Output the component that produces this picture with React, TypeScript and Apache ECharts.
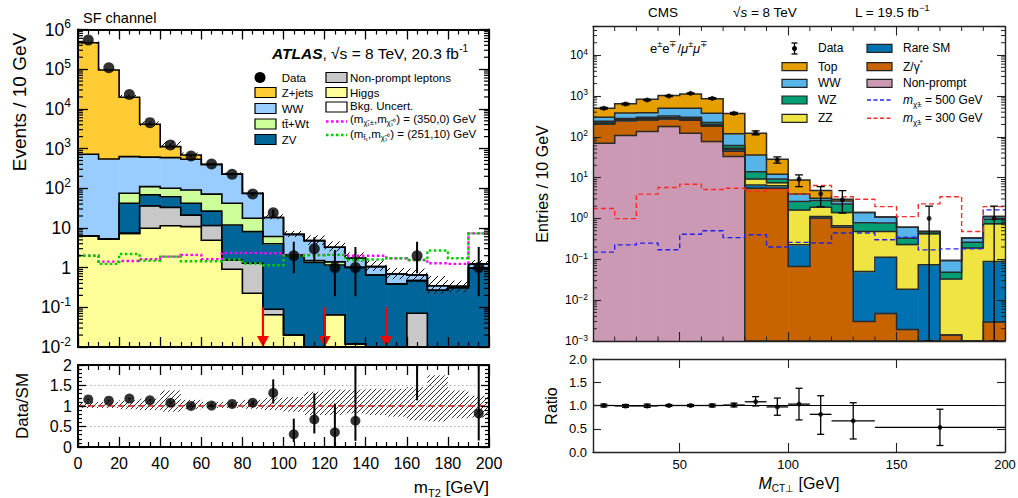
import React, { useEffect, useRef } from "react";
import * as echarts from "echarts";

const FF = "'Liberation Sans', Arial, Helvetica, sans-serif";

/* ================= ATLAS panel (left) ================= */
const atlasEdges = [0, 10, 20, 30, 40, 50, 60, 70, 80, 90, 100, 110, 120, 130, 140, 150, 160, 170, 180, 190, 200];
const atlasHiggs = [6.3, 5.3, 7.3, 9.8, 11.4, 10.8, 4.9, 0.91, 0.226, 0.065, 0.02, 0, 0.065, 0.012, 0, 0, 0, 0, 0, 0];
const atlasNonPrompt = [0, 0, 0, 26.2, 21.6, 10.2, 6.6, 0.65, 1.06, 0.024, 0, 0, 0, 0, 0, 0, 0.071, 0, 0, 0];
const atlasZV = [0, 0, 34.7, 32, 28, 21, 15, 10.3, 6.8, 3.9, 1.95, 1.35, 1.1, 1.0, 0.65, 0.39, 0.4, 0.27, 0.31, 0.97];
const atlasTtWt = [0, 0, 33, 42, 39, 48, 44.5, 30, 9.4, 2.1, 0.13, 0.15, 0.23, 0, 0, 0, 0, 0, 0, 0];
const atlasWW = [712, 542, 550, 500, 490, 448, 324, 183, 56.5, 12.2, 4.8, 3.3, 1.87, 0.71, 0.41, 0.3, 0.18, 0.08, 0.03, 0.27];
const atlasZjets = [464300, 94450, 18975, 3480, 527, 152, 5, 4, 1, 0, 0, 0, 0, 0, 0, 0, 0, 0, 0, 0];
const atlasData = [540000, 109000, 23000, 4500, 1230, 650, 410, 225, 72, 24, 2, 3, 1, 1, 0, 0, 2, 0, 0, 1];
const atlasDataLo = [539300, 108700, 22850, 4433, 1195, 625, 390, 210, 63.5, 19.1, 0.72, 1.4, 0.19, 0.19, 0, 0, 0.72, 0, 0, 0.19];
const atlasDataHi = [540700, 109300, 23150, 4567, 1265, 675, 430, 240, 80.5, 28.9, 4.5, 5.8, 2.8, 3.3, 0, 0, 4.5, 0, 0, 3.3];
const atlasUncLo = [0.95, 0.95, 0.92, 0.9, 0.86, 0.92, 0.95, 0.95, 0.93, 0.9, 0.86, 0.78, 0.78, 0.82, 0.78, 0.74, 0.65, 0.62, 0.7, 0.72];
const atlasUncHi = [1.1, 1.1, 1.14, 1.18, 1.38, 1.15, 1.1, 1.1, 1.15, 1.2, 1.22, 1.35, 1.4, 1.4, 1.42, 1.42, 1.46, 1.75, 1.38, 1.25];
const atlasSigC1N1 = [2.0, 1.42, 1.47, 1.62, 1.89, 2.09, 1.62, 2.35, 2.35, 2.3, 2.1, 2.1, 2.1, 2.0, 2.0, 1.73, 1.56, 1.29, 1.24, 7.3];
const atlasSigStop = [2.0, 1.24, 2.2, 1.5, 1.89, 1.45, 1.45, 1.6, 1.27, 1.15, 2.0, 2.05, 2.1, 1.56, 1.6, 1.73, 1.56, 2.7, 1.73, 7.3];
const atlasCutArrows = [90, 120, 150];
const atlasArrowTop = 0.1;
const atlasRatio = [1.16, 1.13, 1.18, 1.14, 1.08, 1.0, 1.01, 1.05, 1.08, 1.32, 0.31, 0.67, 0.36, 0.64, null, null, 3.2, null, null, 0.82];
const atlasRatioLo = [1.14, 1.11, 1.16, 1.12, 1.05, 0.97, 0.98, 1.02, 1.03, 1.06, 0.12, 0.33, 0.0, 0.15, null, null, 1.14, null, null, 0.16];
const atlasRatioHi = [1.18, 1.15, 1.2, 1.16, 1.11, 1.03, 1.04, 1.08, 1.13, 1.65, 0.69, 1.31, 1.06, 2.5, null, null, 5, null, null, 2.5];

/* ================= CMS panel (right) ================= */
const cmsEdges = [10, 20, 30, 40, 50, 60, 70, 80, 90, 100, 110, 120, 130, 140, 150, 160, 170, 180, 190, 200];
const cmsNonPrompt = [69, 108, 135, 177, 122, 76, 33, 0, 0, 0, 0, 0, 0, 0, 0, 0, 0, 0, 0];
const cmsZgamma = [135, 137, 122, 95, 133, 104, 11, 5.5, 5.5, 0.067, 1.02, 0.61, 0.003, 0.0047, 0.0019, 0, 0.0014, 0, 0.0029];
const cmsRareSM = [8, 10, 8, 10, 10, 10, 4, 1.1, 0.8, 0.159, 0.09, 0.05, 0.047, 0.108, 0.0167, 0.074, 0, 0, 0.085];
const cmsZZ = [6, 7, 10, 10, 10, 10, 4, 2.7, 1.2, 1.39, 0.78, 0.73, 0.43, 0.367, 0.211, 0.346, 0.0316, 0.19, 0.652];
const cmsWZ = [22, 18, 25, 28, 25, 22, 9, 4.7, 1.8, 0.98, 0.85, 0.88, 0.31, 0.29, 0.1, 0.06, 0.015, 0.07, 0.22];
const cmsWW = [60, 100, 89, 178, 198, 153, 57, 22, 2.8, 1.4, 0.39, 0.42, 0.6, 0.31, 0.28, 0, 0.045, 0.07, 0.15];
const cmsTop = [198, 265, 441, 522, 612, 475, 252, 86, 15.9, 4.8, 1.67, 0.27, 0, 0, 0, 0, 0, 0, 0];
const cmsData = [498, 634, 794, 995, 1157, 870, 375, 126, 27, 9.1, 4.0, 2.85, 0, 0, 0, 1, 0, 0, 1];
const cmsDataLo = [475, 608, 765, 963, 1123, 840, 356, 112, 22.5, 6.0, 1.95, 1.35, 0, 0, 0, 0.001, 0, 0, 0.001];
const cmsDataHi = [520, 660, 823, 1027, 1191, 900, 394, 140, 32, 11.6, 6.0, 4.8, 0, 0, 0, 2.0, 0, 0, 2.0];
const cmsSig300 = [1.75, 0.99, 3.93, 5.7, 6.9, 5.1, 5.5, 4.7, 5.1, 4.0, 6.4, 3.4, 2.96, 1.95, 1.11, 2.28, 3.4, 0.48, 1.95];
const cmsSig500 = [0.15, 0.226, 0.249, 0.171, 0.41, 0.5, 0.34, 0.4, 0.2, 0.26, 0.25, 0.44, 0.44, 0.3, 0.35, 0.17, 0.18, 0.18, 1.62];
const cmsRatioX = [15, 25, 35, 45, 55, 65, 75, 85, 95, 105, 115, 130, 170];
const cmsRatioXLo = [10, 20, 30, 40, 50, 60, 70, 80, 90, 100, 110, 120, 140];
const cmsRatioXHi = [20, 30, 40, 50, 60, 70, 80, 90, 100, 110, 120, 140, 200];
const cmsRatio = [1.0, 0.99, 0.99, 1.0, 1.0, 1.0, 1.01, 1.08, 0.97, 1.03, 0.81, 0.67, 0.53];
const cmsRatioLo = [0.97, 0.96, 0.96, 0.98, 0.98, 0.97, 0.97, 0.99, 0.79, 0.69, 0.38, 0.28, 0.14];
const cmsRatioHi = [1.03, 1.02, 1.03, 1.02, 1.02, 1.03, 1.05, 1.19, 1.16, 1.37, 1.21, 1.06, 0.92];
const cmsMajorX = [50, 100, 150, 200];
const cmsMinorX = [20, 30, 40, 60, 70, 80, 90, 110, 120, 130, 140, 160, 170, 180, 190];

/* ================= helpers ================= */
function logMinors(dMin: number, dMax: number, vMax: number) {
  const out: number[] = [];
  for (let d = dMin; d <= dMax; d++) {
    for (let m = 2; m <= 9; m++) {
      const v = Number((m * Math.pow(10, d)).toPrecision(3));
      if (v < vMax) out.push(v);
    }
  }
  return out;
}

function centers(edges: number[]) {
  return edges.slice(0, -1).map((e, i) => (e + edges[i + 1]) / 2);
}

function stepPts(api: any, edges: number[], vals: number[], floor: number) {
  const pts: number[][] = [];
  for (let i = 0; i < vals.length; i++) {
    const v = Math.max(vals[i], floor);
    pts.push(api.coord([edges[i], v]));
    pts.push(api.coord([edges[i + 1], v]));
  }
  return pts;
}

function hatchLines(x0: number, x1: number, yt: number, yb: number, sp: number, style: any) {
  const out: any[] = [];
  const cmin = x0 + yt;
  const cmax = x1 + yb;
  for (let c = Math.ceil(cmin / sp) * sp; c <= cmax; c += sp) {
    const xa = Math.max(x0, c - yb);
    const xb = Math.min(x1, c - yt);
    if (xb > xa) out.push({ type: "line", shape: { x1: xa, y1: c - xa, x2: xb, y2: c - xb }, style });
  }
  return out;
}

function stackSeries(edges: number[], comps: { vals: number[]; color: string }[], xi: number, yi: number, floor: number) {
  const n = edges.length - 1;
  const cum = new Array(n).fill(0);
  const levels: number[][] = [];
  const series: any[] = [];
  comps.forEach((c) => {
    const rows: number[][] = [];
    for (let i = 0; i < n; i++) {
      const lo = cum[i];
      cum[i] = lo + c.vals[i];
      if (c.vals[i] > 0) rows.push([edges[i], edges[i + 1], lo, cum[i]]);
    }
    levels.push(cum.slice());
    series.push({
      type: "custom", xAxisIndex: xi, yAxisIndex: yi, clip: true, silent: true, z: 2,
      data: rows,
      renderItem: (_p: any, api: any) => {
        const lo = Math.max(api.value(2), floor);
        const hi = api.value(3);
        if (hi <= floor) return null;
        const a = api.coord([api.value(0), lo]);
        const b = api.coord([api.value(1), hi]);
        return {
          type: "rect",
          shape: { x: a[0], y: b[1], width: b[0] - a[0] + 0.6, height: a[1] - b[1] + 0.6 },
          style: { fill: c.color },
        };
      },
    });
  });
  return { series, levels };
}

function stepSeries(edges: number[], vals: number[], xi: number, yi: number, floor: number, style: any, z = 3) {
  return {
    type: "custom", xAxisIndex: xi, yAxisIndex: yi, clip: true, silent: true, z,
    data: [[edges[0] + 1, floor * 10]],
    renderItem: (_p: any, api: any) => ({
      type: "polyline",
      shape: { points: stepPts(api, edges, vals, floor) },
      style: { fill: "none", ...style },
    }),
  };
}

function richSet(base: number, small: number) {
  const lh = Math.round(base * 1.3);
  return {
    n: { fontFamily: FF, fontSize: base, lineHeight: lh },
    i: { fontFamily: FF, fontSize: base, lineHeight: lh, fontStyle: "italic" },
    bi: { fontFamily: FF, fontSize: base, lineHeight: lh, fontStyle: "italic", fontWeight: "bold" },
    sup: { fontFamily: FF, fontSize: small, lineHeight: small + 1, verticalAlign: "top" },
    sub: { fontFamily: FF, fontSize: small, lineHeight: small + 1, verticalAlign: "bottom" },
  };
}

function gText(x: number, y: number, text: string, size: number, small: number, opt: any = {}) {
  return {
    type: "text", x, y, z: 100, rotation: opt.rotation || 0, silent: true,
    style: {
      text, fontFamily: FF, fontSize: size, lineHeight: Math.round(size * 1.3), fill: "#000",
      align: opt.align || "left", verticalAlign: "middle",
      textAlign: opt.align || "left", textVerticalAlign: "middle",
      rich: richSet(size, small),
    },
  };
}

function buildOption() {
  const series: any[] = [];
  const graphic: any[] = [];

  /* ---------- ATLAS main ---------- */
  const aFloor = 0.01;
  const aC = centers(atlasEdges);
  const aStack = stackSeries(
    atlasEdges,
    [
      { vals: atlasHiggs, color: "#FFFF99" },
      { vals: atlasNonPrompt, color: "#C8C8C8" },
      { vals: atlasZV, color: "#00669A" },
      { vals: atlasTtWt, color: "#CCFF99" },
      { vals: atlasWW, color: "#99CCFF" },
      { vals: atlasZjets, color: "#FFCC33" },
    ],
    0, 0, aFloor
  );
  series.push(...aStack.series);
  aStack.levels.forEach((lv) => series.push(stepSeries(atlasEdges, lv, 0, 0, aFloor, { stroke: "#000", lineWidth: 1.6 })));
  const aTotal = aStack.levels[aStack.levels.length - 1];
  series.push({
    type: "custom", xAxisIndex: 0, yAxisIndex: 0, clip: true, silent: true, z: 3,
    data: aTotal.map((t, i) => [atlasEdges[i], atlasEdges[i + 1], t * atlasUncLo[i], t * atlasUncHi[i]]),
    renderItem: (_p: any, api: any) => {
      const a = api.coord([api.value(0), Math.max(api.value(2), aFloor)]);
      const b = api.coord([api.value(1), api.value(3)]);
      return { type: "group", children: hatchLines(a[0], b[0], b[1], a[1], 7, { stroke: "#000", lineWidth: 1 }) };
    },
  });
  series.push(stepSeries(atlasEdges, atlasSigC1N1, 0, 0, aFloor, { stroke: "#FF00FF", lineWidth: 2.4, lineDash: [2.5, 2.5] }, 4));
  series.push(stepSeries(atlasEdges, atlasSigStop, 0, 0, aFloor, { stroke: "#00CC00", lineWidth: 2.4, lineDash: [2.5, 2.5] }, 4));
  series.push({
    type: "custom", xAxisIndex: 0, yAxisIndex: 0, clip: false, silent: true, z: 4,
    data: atlasCutArrows.map((x) => [x, atlasArrowTop]),
    renderItem: (_p: any, api: any) => {
      const t = api.coord([api.value(0), api.value(1)]);
      const b = api.coord([api.value(0), aFloor]);
      return {
        type: "group",
        children: [
          { type: "line", shape: { x1: t[0], y1: t[1], x2: b[0], y2: b[1] - 8 }, style: { stroke: "#FF0000", lineWidth: 2.2 } },
          { type: "polygon", shape: { points: [[b[0] - 6, b[1] - 11], [b[0] + 6, b[1] - 11], [b[0], b[1]]] }, style: { fill: "#FF0000" } },
        ],
      };
    },
  });
  const aErrRows: number[][] = [];
  const aPts: number[][] = [];
  atlasData.forEach((v, i) => {
    if (v > 0) {
      aErrRows.push([aC[i], atlasDataLo[i], atlasDataHi[i]]);
      aPts.push([aC[i], v]);
    }
  });
  series.push({
    type: "custom", xAxisIndex: 0, yAxisIndex: 0, clip: true, silent: true, z: 5,
    data: aErrRows,
    renderItem: (_p: any, api: any) => {
      const a = api.coord([api.value(0), Math.max(api.value(1), aFloor)]);
      const b = api.coord([api.value(0), api.value(2)]);
      return { type: "line", shape: { x1: a[0], y1: a[1], x2: b[0], y2: b[1] }, style: { stroke: "#000", lineWidth: 2 } };
    },
  });
  series.push({ type: "scatter", xAxisIndex: 0, yAxisIndex: 0, silent: true, z: 6, symbol: "circle", symbolSize: 11, itemStyle: { color: "#000" }, data: aPts });
  series.push({
    type: "custom", xAxisIndex: 0, yAxisIndex: 0, clip: false, silent: true, z: 7,
    data: logMinors(-2, 5, 1e6).map((v) => [100, v]),
    renderItem: (_p: any, api: any) => {
      const l = api.coord([0, api.value(1)]);
      const r = api.coord([200, api.value(1)]);
      const st = { stroke: "#000", lineWidth: 1.2 };
      return { type: "group", children: [
        { type: "line", shape: { x1: l[0], y1: l[1], x2: l[0] + 5, y2: l[1] }, style: st },
        { type: "line", shape: { x1: r[0] - 5, y1: r[1], x2: r[0], y2: r[1] }, style: st },
      ] };
    },
  });

  /* ---------- ATLAS ratio ---------- */
  series.push({
    type: "custom", xAxisIndex: 2, yAxisIndex: 2, clip: true, silent: true, z: 3,
    data: atlasUncLo.map((lo, i) => [atlasEdges[i], atlasEdges[i + 1], lo, atlasUncHi[i]]),
    renderItem: (_p: any, api: any) => {
      const a = api.coord([api.value(0), api.value(2)]);
      const b = api.coord([api.value(1), api.value(3)]);
      return { type: "group", children: hatchLines(a[0], b[0], b[1], a[1], 5, { stroke: "#000", lineWidth: 0.8 }) };
    },
  });
  series.push({
    type: "custom", xAxisIndex: 2, yAxisIndex: 2, clip: true, silent: true, z: 4,
    data: [[100, 1]],
    renderItem: (_p: any, api: any) => {
      const a = api.coord([0, 1]);
      const b = api.coord([200, 1]);
      return { type: "line", shape: { x1: a[0], y1: a[1], x2: b[0], y2: b[1] }, style: { stroke: "#E00000", lineWidth: 1.3, lineDash: [6, 4] } };
    },
  });
  const arRows: number[][] = [];
  const arPts: number[][] = [];
  atlasRatio.forEach((r, i) => {
    if (r != null) {
      arRows.push([aC[i], atlasRatioLo[i] as number, atlasRatioHi[i] as number]);
      arPts.push([aC[i], r]);
    }
  });
  series.push({
    type: "custom", xAxisIndex: 2, yAxisIndex: 2, clip: true, silent: true, z: 5,
    data: arRows,
    renderItem: (_p: any, api: any) => {
      const a = api.coord([api.value(0), api.value(1)]);
      const b = api.coord([api.value(0), api.value(2)]);
      return { type: "line", shape: { x1: a[0], y1: a[1], x2: b[0], y2: b[1] }, style: { stroke: "#000", lineWidth: 2 } };
    },
  });
  series.push({ type: "scatter", xAxisIndex: 2, yAxisIndex: 2, silent: true, z: 6, symbol: "circle", symbolSize: 10, itemStyle: { color: "#000" }, data: arPts });

  /* ---------- CMS main ---------- */
  const cFloor = 0.001;
  const cC = centers(cmsEdges);
  const cStack = stackSeries(
    cmsEdges,
    [
      { vals: cmsNonPrompt, color: "#CC99B4" },
      { vals: cmsZgamma, color: "#C86400" },
      { vals: cmsRareSM, color: "#0072B2" },
      { vals: cmsZZ, color: "#F0E442" },
      { vals: cmsWZ, color: "#009E73" },
      { vals: cmsWW, color: "#56B4E9" },
      { vals: cmsTop, color: "#E69F00" },
    ],
    4, 4, cFloor
  );
  series.push(...cStack.series);
  cStack.levels.forEach((lv) => series.push(stepSeries(cmsEdges, lv, 4, 4, cFloor, { stroke: "#2a2a2a", lineWidth: 1.5 })));
  series.push(stepSeries(cmsEdges, cmsSig500, 4, 4, cFloor, { stroke: "#2222EE", lineWidth: 1.4, lineDash: [5, 3] }, 4));
  series.push(stepSeries(cmsEdges, cmsSig300, 4, 4, cFloor, { stroke: "#FF2a2a", lineWidth: 1.4, lineDash: [5, 3] }, 4));
  const cErrRows: number[][] = [];
  const cPts: number[][] = [];
  cmsData.forEach((v, i) => {
    if (v > 0) {
      cErrRows.push([cC[i], cmsDataLo[i], cmsDataHi[i]]);
      cPts.push([cC[i], v]);
    }
  });
  series.push({
    type: "custom", xAxisIndex: 4, yAxisIndex: 4, clip: true, silent: true, z: 5,
    data: cErrRows,
    renderItem: (_p: any, api: any) => {
      const a = api.coord([api.value(0), Math.max(api.value(1), cFloor)]);
      const b = api.coord([api.value(0), api.value(2)]);
      const st = { stroke: "#000", lineWidth: 1.3 };
      return { type: "group", children: [
        { type: "line", shape: { x1: a[0], y1: a[1], x2: b[0], y2: b[1] }, style: st },
        { type: "line", shape: { x1: a[0] - 4, y1: a[1], x2: a[0] + 4, y2: a[1] }, style: st },
        { type: "line", shape: { x1: b[0] - 4, y1: b[1], x2: b[0] + 4, y2: b[1] }, style: st },
      ] };
    },
  });
  series.push({ type: "scatter", xAxisIndex: 4, yAxisIndex: 4, silent: true, z: 6, symbol: "circle", symbolSize: 5, itemStyle: { color: "#000" }, data: cPts });
  series.push({
    type: "custom", xAxisIndex: 4, yAxisIndex: 4, clip: false, silent: true, z: 7,
    data: logMinors(-3, 4, 5e4).map((v) => [100, v]),
    renderItem: (_p: any, api: any) => {
      const l = api.coord([10, api.value(1)]);
      const r = api.coord([200, api.value(1)]);
      const st = { stroke: "#222", lineWidth: 1 };
      return { type: "group", children: [
        { type: "line", shape: { x1: l[0], y1: l[1], x2: l[0] + 4, y2: l[1] }, style: st },
        { type: "line", shape: { x1: r[0] - 4, y1: r[1], x2: r[0], y2: r[1] }, style: st },
      ] };
    },
  });
  series.push({
    type: "custom", xAxisIndex: 4, yAxisIndex: 4, clip: false, silent: true, z: 7,
    data: cmsMinorX.map((v) => [v, 1]),
    renderItem: (_p: any, api: any) => {
      const b = api.coord([api.value(0), cFloor]);
      const t = api.coord([api.value(0), 5e4]);
      const st = { stroke: "#222", lineWidth: 1 };
      return { type: "group", children: [
        { type: "line", shape: { x1: b[0], y1: b[1], x2: b[0], y2: b[1] - 4.5 }, style: st },
        { type: "line", shape: { x1: t[0], y1: t[1], x2: t[0], y2: t[1] + 4.5 }, style: st },
      ] };
    },
  });

  /* ---------- CMS ratio ---------- */
  series.push({
    type: "custom", xAxisIndex: 6, yAxisIndex: 6, clip: true, silent: true, z: 4,
    data: [[100, 1]],
    renderItem: (_p: any, api: any) => {
      const a = api.coord([10, 1]);
      const b = api.coord([200, 1]);
      return { type: "line", shape: { x1: a[0], y1: a[1], x2: b[0], y2: b[1] }, style: { stroke: "#000", lineWidth: 1.1 } };
    },
  });
  series.push({
    type: "custom", xAxisIndex: 6, yAxisIndex: 6, clip: true, silent: true, z: 5,
    data: cmsRatio.map((r, i) => [cmsRatioX[i], cmsRatioXLo[i], cmsRatioXHi[i], r, cmsRatioLo[i], cmsRatioHi[i]]),
    renderItem: (_p: any, api: any) => {
      const x = api.value(0);
      const y = api.value(3);
      const l = api.coord([api.value(1), y]);
      const r = api.coord([api.value(2), y]);
      const lo = api.coord([x, api.value(4)]);
      const hi = api.coord([x, api.value(5)]);
      const st = { stroke: "#000", lineWidth: 1.3 };
      return { type: "group", children: [
        { type: "line", shape: { x1: l[0], y1: l[1], x2: r[0], y2: r[1] }, style: st },
        { type: "line", shape: { x1: lo[0], y1: lo[1], x2: hi[0], y2: hi[1] }, style: st },
        { type: "line", shape: { x1: lo[0] - 3.5, y1: lo[1], x2: lo[0] + 3.5, y2: lo[1] }, style: st },
        { type: "line", shape: { x1: hi[0] - 3.5, y1: hi[1], x2: hi[0] + 3.5, y2: hi[1] }, style: st },
      ] };
    },
  });
  series.push({
    type: "scatter", xAxisIndex: 6, yAxisIndex: 6, silent: true, z: 6, symbol: "circle", symbolSize: 5,
    itemStyle: { color: "#000" }, data: cmsRatio.map((r, i) => [cmsRatioX[i], r]),
  });

  /* ---------- axes ---------- */
  const aLine = { show: true, onZero: false, lineStyle: { color: "#000", width: 2 } };
  const aTick = (len: number) => ({ show: true, inside: true, length: len, lineStyle: { color: "#000", width: 1.3 } });
  const aMinor = (len: number, sn: number) => ({ show: true, splitNumber: sn, length: len, lineStyle: { color: "#000", width: 1.2 } });
  const cLine = { show: true, onZero: false, lineStyle: { color: "#222", width: 1.4 } };
  const cTick = (len: number, cv?: number[]) => ({ show: true, inside: true, length: len, customValues: cv, lineStyle: { color: "#222", width: 1.1 } });
  const noSplit = { show: false };

  const atlasX = (gi: number, pos: string, labels: boolean) => ({
    type: "value", gridIndex: gi, position: pos, min: 0, max: 200, interval: 20, z: 5,
    axisLine: aLine, axisTick: aTick(10), minorTick: aMinor(5, 4), splitLine: noSplit,
    axisLabel: labels ? { show: true, margin: 8, color: "#000", fontFamily: FF, fontSize: 16 } : { show: false },
  });
  const cmsX = (gi: number, pos: string, labels: boolean) => ({
    type: "value", gridIndex: gi, position: pos, min: 10, max: 200, z: 5,
    axisLine: cLine, axisTick: cTick(9, cmsMajorX), splitLine: noSplit,
    axisLabel: labels ? { show: true, customValues: cmsMajorX, margin: 6, color: "#000", fontFamily: FF, fontSize: 13 } : { show: false },
  });

  const isDecade = (v: number) => Math.abs(Math.log10(v) - Math.round(Math.log10(v))) < 0.01;
  const atlasLogFmt = (v: number) => {
    if (!isDecade(v)) return "";
    const e = Math.round(Math.log10(v));
    if (e === 0) return "{b|1}";
    if (e === 1) return "{b|10}";
    return "{b|10}{s|" + e + "}";
  };
  const cmsLogFmt = (v: number) => {
    if (!isDecade(v)) return "";
    const e = Math.round(Math.log10(v));
    return "{b|10}{s|" + (e < 0 ? "\u2212" + -e : String(e)) + "}";
  };

  const xAxis = [
    atlasX(0, "bottom", false),
    atlasX(0, "top", false),
    atlasX(1, "bottom", true),
    atlasX(1, "top", false),
    cmsX(2, "bottom", false),
    cmsX(2, "top", false),
    cmsX(3, "bottom", true),
    cmsX(3, "top", false),
  ];
  const yAxis = [
    {
      type: "log", logBase: 10, gridIndex: 0, position: "left", min: 0.01, max: 1e6, z: 5,
      axisLine: aLine, axisTick: aTick(10), splitLine: noSplit,
      axisLabel: {
        show: true, margin: 7, color: "#000", formatter: atlasLogFmt,
        rich: {
          b: { fontFamily: FF, fontSize: 17.5, lineHeight: 23, color: "#000" },
          s: { fontFamily: FF, fontSize: 12, lineHeight: 13, verticalAlign: "top", color: "#000" },
        },
      },
    },
    { type: "log", logBase: 10, gridIndex: 0, position: "right", min: 0.01, max: 1e6, z: 5, axisLine: aLine, axisTick: aTick(10), splitLine: noSplit, axisLabel: { show: false } },
    {
      type: "value", gridIndex: 1, position: "left", min: 0, max: 2, interval: 0.5, z: 5,
      axisLine: aLine, axisTick: aTick(8), minorTick: aMinor(4, 5),
      splitLine: { show: true, lineStyle: { color: "#999", type: [1.5, 2.5], width: 0.8 } },
      axisLabel: { show: true, margin: 6, color: "#000", fontFamily: FF, fontSize: 16 },
    },
    { type: "value", gridIndex: 1, position: "right", min: 0, max: 2, interval: 0.5, z: 5, axisLine: aLine, axisTick: aTick(8), minorTick: aMinor(4, 5), splitLine: noSplit, axisLabel: { show: false } },
    {
      type: "log", logBase: 10, gridIndex: 2, position: "left", min: 0.001, max: 5e4, z: 5,
      axisLine: cLine, axisTick: cTick(8), splitLine: noSplit,
      axisLabel: {
        show: true, margin: 5, color: "#000", formatter: cmsLogFmt,
        rich: {
          b: { fontFamily: FF, fontSize: 12, lineHeight: 16, color: "#000" },
          s: { fontFamily: FF, fontSize: 8.5, lineHeight: 9, verticalAlign: "top", color: "#000" },
        },
      },
    },
    { type: "log", logBase: 10, gridIndex: 2, position: "right", min: 0.001, max: 5e4, z: 5, axisLine: cLine, axisTick: cTick(8), splitLine: noSplit, axisLabel: { show: false } },
    {
      type: "value", gridIndex: 3, position: "left", min: 0, max: 2, interval: 0.5, z: 5,
      axisLine: cLine, axisTick: cTick(8), splitLine: noSplit,
      axisLabel: { show: true, margin: 6, color: "#000", fontFamily: FF, fontSize: 13, formatter: (v: number) => v.toFixed(1) },
    },
    { type: "value", gridIndex: 3, position: "right", min: 0, max: 2, interval: 0.5, z: 5, axisLine: cLine, axisTick: cTick(8), splitLine: noSplit, axisLabel: { show: false } },
  ];

  /* ---------- texts & legends ---------- */
  graphic.push(gText(83, 18, "SF channel", 14.5, 10));
  graphic.push(gText(19, 102, "Events / 10 GeV", 19, 12, { rotation: Math.PI / 2, align: "center" }));
  graphic.push(gText(22, 406, "Data/SM", 17, 11, { rotation: Math.PI / 2, align: "center" }));
  graphic.push(gText(489, 487, "{n|m}{sub|T2}{n| [GeV]}", 17, 11, { align: "right" }));
  graphic.push(gText(272, 53, "{bi|ATLAS}{n|, \u221As = 8 TeV, 20.3 fb}{sup|-1}", 15.5, 10));

  graphic.push({ type: "circle", z: 100, shape: { cx: 260, cy: 77.5, r: 5.5 }, style: { fill: "#000" } });
  graphic.push(gText(281.7, 77.5, "Data", 11.5, 8));
  const aBoxes: [number, number, string, string][] = [
    [255, 92.5, "#FFCC33", "Z+jets"],
    [255, 108.5, "#99CCFF", "WW"],
    [255, 124, "#CCFF99", "tt\u0304+Wt"],
    [255, 139.5, "#00669A", "ZV"],
    [326, 77.5, "#C8C8C8", "Non-prompt leptons"],
    [326, 92.5, "#FFFF99", "Higgs"],
  ];
  aBoxes.forEach(([x, y, col, lab]) => {
    graphic.push({ type: "rect", z: 100, shape: { x, y: y - 5, width: 21, height: 10 }, style: { fill: col, stroke: "#000", lineWidth: 1.2 } });
    graphic.push(gText(x < 300 ? 281.7 : 350, y, lab, 11.5, 8));
  });
  graphic.push({ type: "rect", z: 100, shape: { x: 326, y: 102, width: 21, height: 10 }, style: { fill: "#fff", stroke: "#000", lineWidth: 1.2 } });
  graphic.push({ type: "group", z: 101, children: hatchLines(326, 347, 102, 112, 4, { stroke: "#000", lineWidth: 1 }) });
  graphic.push(gText(350, 106, "Bkg. Uncert.", 11.5, 8));
  graphic.push({ type: "line", z: 100, shape: { x1: 326, y1: 121.5, x2: 347, y2: 121.5 }, style: { stroke: "#FF00FF", lineWidth: 2.4, lineDash: [2.5, 2.5] } });
  graphic.push(gText(350, 119, "(m{sub|\u03C7\u0303\u2081\u00B1},m{sub|\u03C7\u0303\u2081\u2070}) = (350,0) GeV", 11.5, 7.5));
  graphic.push({ type: "line", z: 100, shape: { x1: 326, y1: 135, x2: 347, y2: 135 }, style: { stroke: "#00CC00", lineWidth: 2.4, lineDash: [2.5, 2.5] } });
  graphic.push(gText(350, 134, "(m{sub|t\u0303\u2081},m{sub|\u03C7\u0303\u2081\u2070}) = (251,10) GeV", 11.5, 7.5));

  graphic.push(gText(648, 12, "CMS", 13.5, 9));
  graphic.push(gText(733, 12, "{n|\u221A}{i|s}{n| = 8 TeV}", 13.5, 9));
  graphic.push(gText(855, 12, "{n|L = 19.5 fb}{sup|\u22121}", 13.5, 9));
  graphic.push(gText(650, 48, "{n|e}{sup|\u00B1}{n|e}{sup|\u2213}{n|/}{i|\u03BC}{sup|\u00B1}{i|\u03BC}{sup|\u2213}", 13, 9));
  graphic.push(gText(542, 184, "Entries / 10 GeV", 16, 10, { rotation: Math.PI / 2, align: "center" }));
  graphic.push(gText(551, 406, "Ratio", 16, 10, { rotation: Math.PI / 2, align: "center" }));
  graphic.push(gText(799, 483, "{i|M}{sub|CT\u22A5}{n| [GeV]}", 16, 10, { align: "center" }));

  const dm = { stroke: "#000", lineWidth: 1.3 };
  graphic.push({ type: "group", z: 100, children: [
    { type: "line", shape: { x1: 794.5, y1: 43, x2: 794.5, y2: 54 }, style: dm },
    { type: "line", shape: { x1: 791.5, y1: 43, x2: 797.5, y2: 43 }, style: dm },
    { type: "line", shape: { x1: 791.5, y1: 54, x2: 797.5, y2: 54 }, style: dm },
    { type: "circle", shape: { cx: 794.5, cy: 48.5, r: 2.5 }, style: { fill: "#000" } },
  ] });
  graphic.push(gText(818, 48.3, "Data", 12, 8));
  const cBoxes: [number, number, string, string][] = [
    [782, 66.7, "#E69F00", "Top"],
    [782, 83.3, "#56B4E9", "WW"],
    [782, 100, "#009E73", "WZ"],
    [782, 118.3, "#F0E442", "ZZ"],
    [867, 48.3, "#0072B2", "Rare SM"],
    [867, 66.7, "#C86400", "{n|Z/\u03B3}{sup|*}"],
    [867, 83.3, "#CC99B4", "Non-prompt"],
  ];
  cBoxes.forEach(([x, y, col, lab]) => {
    graphic.push({ type: "rect", z: 100, shape: { x, y: y - 4, width: 25, height: 8 }, style: { fill: col, stroke: "#222", lineWidth: 1.2 } });
    graphic.push(gText(x < 850 ? 818 : 903, y, lab, 12, 8));
  });
  graphic.push({ type: "line", z: 100, shape: { x1: 867, y1: 100, x2: 892, y2: 100 }, style: { stroke: "#2222EE", lineWidth: 1.4, lineDash: [4, 2.5] } });
  graphic.push(gText(903, 100, "{i|m}{sub|\u03C7\u0303\u00B1}{n| = 500 GeV}", 12, 8));
  graphic.push({ type: "line", z: 100, shape: { x1: 867, y1: 118.3, x2: 892, y2: 118.3 }, style: { stroke: "#FF2a2a", lineWidth: 1.4, lineDash: [4, 2.5] } });
  graphic.push(gText(903, 118.3, "{i|m}{sub|\u03C7\u0303\u00B1}{n| = 300 GeV}", 12, 8));

  return {
    animation: false,
    backgroundColor: "#ffffff",
    textStyle: { fontFamily: FF },
    grid: [
      { left: 78, top: 29.5, width: 411, height: 317.5, containLabel: false, outerBoundsMode: "none" },
      { left: 78, top: 365, width: 411, height: 82, containLabel: false, outerBoundsMode: "none" },
      { left: 593, top: 26.5, width: 412, height: 314.5, containLabel: false, outerBoundsMode: "none" },
      { left: 593, top: 359, width: 412, height: 93, containLabel: false, outerBoundsMode: "none" },
    ],
    xAxis,
    yAxis,
    series,
    graphic,
  };
}

export default function App() {
  const ref = useRef<HTMLDivElement>(null);
  useEffect(() => {
    if (!ref.current) return;
    const chart = echarts.init(ref.current, null, { renderer: "svg" });
    chart.setOption(buildOption() as any);
    return () => chart.dispose();
  }, []);
  return <div ref={ref} style={{ position: "absolute", left: 0, top: 0, width: 1018, height: 498, background: "#fff" }} />;
}
